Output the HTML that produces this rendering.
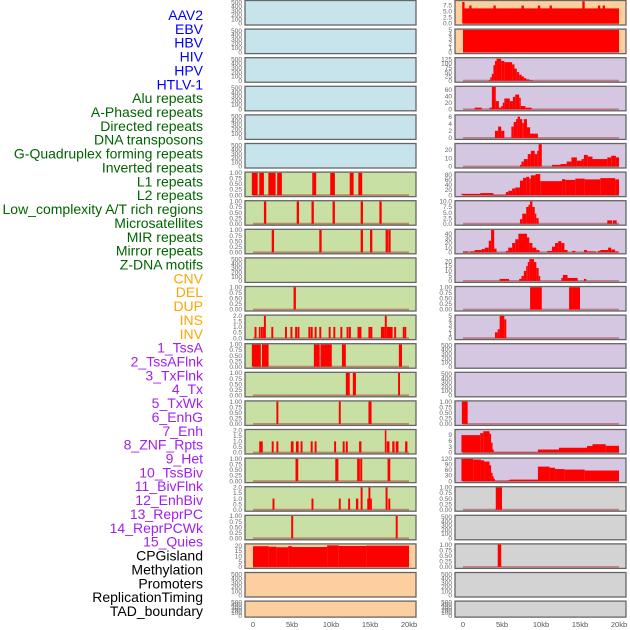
<!DOCTYPE html>
<html><head><meta charset="utf-8"><style>
body{margin:0;background:#fff;}
svg{display:block;font-family:"Liberation Sans",sans-serif;}
</style></head><body>
<svg id="chart" width="630" height="630" viewBox="0 0 630 630"></svg>
<script>
// ---------- data ----------
const trackLabels = ["AAV2","EBV","HBV","HIV","HPV","HTLV-1","Alu repeats","A-Phased repeats","Directed repeats","DNA transposons","G-Quadruplex forming repeats","Inverted repeats","L1 repeats","L2 repeats","Low_complexity A/T rich regions","Microsatellites","MIR repeats","Mirror repeats","Z-DNA motifs","CNV","DEL","DUP","INS","INV","1_TssA","2_TssAFlnk","3_TxFlnk","4_Tx","5_TxWk","6_EnhG","7_Enh","8_ZNF_Rpts","9_Het","10_TssBiv","11_BivFlnk","12_EnhBiv","13_ReprPC","14_ReprPCWk","15_Quies","CPGisland","Methylation","Promoters","ReplicationTiming","TAD_boundary"];
const labelGroups = ["virus","virus","virus","virus","virus","virus","repeat","repeat","repeat","repeat","repeat","repeat","repeat","repeat","repeat","repeat","repeat","repeat","repeat","sv","sv","sv","sv","sv","chrom","chrom","chrom","chrom","chrom","chrom","chrom","chrom","chrom","chrom","chrom","chrom","chrom","chrom","chrom","other","other","other","other","other"];
const xTickValues = [0,5,10,15,20];
const xTickLabels = ["0","5kb","10kb","15kb","20kb"];

// right column series: [startKb, endKb, value]
const r0Segs = [[0,20,6.3],[-0.1,0.2,9],[0.8,1.1,7.5],[3.9,4.2,7.5],[7.5,7.8,7.5],[9.6,9.9,7.5],[11.1,11.4,7.5],[15.3,15.6,9.3],[17.3,17.6,7.5],[17.9,18.2,7.5]];
const r1Segs = [[0,20,5]];
const r2Segs = [[3.3,3.5,5],[3.5,3.7,20],[3.7,3.9,40],[3.9,4.1,90],[4.1,4.3,115],[4.3,4.9,128],[4.9,5.3,115],[5.3,6.3,108],[6.3,6.6,95],[6.6,6.9,70],[6.9,7.2,50],[7.2,7.5,35],[7.5,7.8,25],[7.8,8.1,15],[8.1,8.5,8],[8.5,9,3]];
const r3Segs = [[1.5,2.4,5],[3.4,3.7,5],[3.7,4.2,68],[4.2,4.6,25],[4.6,4.9,5],[4.9,5.1,10],[5.1,5.3,20],[5.3,6,33],[6,6.4,25],[6.4,6.7,38],[6.7,7.2,45],[7.2,7.4,35],[7.4,8,10],[8,8.8,5]];
const r4Segs = [[4.1,4.5,2],[4.5,4.9,3.2],[4.9,5.3,2],[6.2,6.5,3.2],[6.5,6.8,4.5],[6.8,7.0,5.3],[7.0,7.3,6],[7.3,7.6,5.3],[7.6,7.8,4.2],[7.8,8.2,5.3],[8.2,8.6,3],[8.6,9.6,1.2]];
const r5Segs = [[7.3,7.5,2],[7.5,7.8,6],[7.8,8.3,9],[8.3,8.7,15],[8.7,9.2,19],[9.2,9.5,15],[9.5,9.7,19],[9.7,10.1,27],[11.4,12.5,2],[12.5,13.3,3],[13.3,13.9,6],[13.9,14.6,11],[14.6,15.2,7],[15.2,15.5,9],[15.5,16,14],[16,16.6,12],[16.6,18.5,9],[18.5,19,11],[19,19.6,13],[19.6,20,11]];
const r6Segs = [[-0.2,2.2,5],[2.2,3.9,8],[3.9,5.5,1],[5.5,5.8,12],[5.8,6.3,17],[6.3,6.7,26],[6.7,7.3,30],[7.3,7.7,57],[7.7,8.1,68],[8.1,8.5,72],[8.5,8.7,65],[8.7,9.3,78],[9.3,9.9,83],[9.9,12.7,55],[12.7,13.1,63],[13.1,14.4,60],[14.4,15.6,65],[15.6,17.6,62],[17.6,19.5,67],[19.5,20,62]];
const r7Segs = [[7.3,7.6,2],[7.6,8.1,4.5],[8.1,8.4,7.5],[8.4,8.6,8.5],[8.6,8.9,10],[8.9,9.2,7.5],[9.2,9.4,4.5],[9.4,9.7,2.5],[18.5,19.1,1.5],[19.2,19.7,1.5]];
const r8Segs = [[0,0.7,2],[0.9,1.5,2],[1.5,2.4,5],[2.4,2.8,7],[2.8,3.3,10],[3.3,3.6,25],[3.6,4,48],[4,4.3,8],[5.5,5.8,3],[5.8,6.3,10],[6.3,6.7,20],[6.7,7.1,28],[7.1,8.2,40],[8.2,8.5,32],[8.5,8.9,20],[8.9,9.4,10],[9.4,9.8,5],[10.8,11.4,3],[11.4,11.8,12],[11.8,12.2,20],[12.2,12.6,24],[12.6,13,20],[13,13.4,5],[14,14.4,3],[15.5,15.9,5],[15.9,17,2],[17.3,17.6,3],[17.6,18.6,5],[18.6,19,10],[19,19.5,6],[19.5,19.9,2]];
const r9Segs = [[4.7,5.9,2],[7.2,7.5,2],[7.5,7.8,5],[7.8,8.1,10],[8.1,8.3,15],[8.3,8.5,19],[8.5,9.1,22],[9.1,9.4,19],[9.4,9.7,13],[9.7,9.9,5],[12.6,12.8,3],[12.8,13.4,6],[13.4,14.7,3],[15.5,15.8,2]];
const r10Segs = [[8.6,10.1,1],[13.6,15,1]];
const r11Segs = [[4.1,4.45,1.3],[4.45,4.7,2],[4.7,5.3,5],[5.3,5.55,4.2]];
const r14Segs = [[-0.15,0.6,1]];
const r15Segs = [[-0.2,2.2,8.8],[2.2,2.6,9.8],[2.6,3.4,10.8],[3.4,3.6,9.5],[3.6,3.75,5],[3.75,3.9,1.5],[3.9,9.6,0.3],[9.6,12.3,1.5],[12.3,15.9,2.4],[15.9,16.6,3.3],[16.6,18.3,4.2],[18.3,20,3.4]];
const r16Segs = [[-0.2,1.3,120],[1.3,2.3,116],[2.3,2.7,112],[2.7,3.4,105],[3.4,3.6,85],[3.6,3.75,45],[3.75,3.9,25],[3.9,4.1,12],[4.1,5.8,2],[5.8,6,5],[6,9.6,8],[9.6,11.1,78],[11.1,11.8,72],[11.8,13,65],[13,15.6,62],[15.6,20,57]];
const r17Segs = [[4.2,5,1]];
const r19Segs = [[4.45,4.9,1]];
// left column series
const l6Segs = [[-0.15,0.6,1],[0.8,1.4,1],[1.97,2.9,1],[3.1,3.7,1],[7.6,8.1,1],[9.9,10.5,1],[12.4,12.9,1],[13.5,14,1]];
const l7Segs = [[1.4,1.7,1],[5.6,5.9,1],[7.5,7.8,1],[10.2,10.5,1],[13.8,14.1,1],[16.2,16.5,1]];
const l8Segs = [[2.4,2.7,1],[8.5,8.8,1],[13.8,14.1,1],[15,15.3,1],[17,17.3,1],[17.35,17.65,1]];
const l10Segs = [[5.2,5.5,1]];
const l11Segs = [[0.2,0.45,1],[0.75,0.95,1],[1.0,1.15,1],[1.2,1.4,1],[1.4,1.65,2],[2.35,2.6,1],[4.1,4.35,1],[4.8,5.05,1],[5.4,5.65,1],[5.7,5.95,1],[7.1,7.35,1],[7.4,7.65,1],[7.9,8.15,1],[8.5,8.75,1],[9.7,9.95,1],[10.3,10.55,1],[11.2,11.45,1],[12.0,12.25,1],[12.3,12.55,1],[13.4,13.65,1],[13.65,13.9,1],[14.8,15.05,1],[15.05,15.3,1],[16.4,16.9,1],[16.9,17.15,2],[17.15,17.9,1],[18.1,18.35,1],[19.2,19.45,1],[19.45,19.65,1]];
const l12Segs = [[-0.15,1.0,1],[1.15,2.0,1],[7.8,8.55,1],[8.65,10.1,1],[11.4,11.9,1],[18.7,19.1,1]];
const l13Segs = [[11.9,12.4,1],[12.8,13.2,1],[18.6,18.85,1]];
const l14Segs = [[3.0,3.25,1],[11.0,11.25,1],[14.8,15.2,1]];
const l15Segs = [[0.8,1.25,1],[2.4,2.65,1],[3.0,3.25,1],[4.85,5.2,1],[5.5,5.85,1],[6.1,6.35,1],[7.4,7.65,1],[7.9,8.15,1],[10.4,10.65,1],[11.5,11.75,1],[11.9,12.15,1],[13.6,13.9,1],[16.9,17.1,2],[17.15,17.5,1],[17.85,18.15,1],[18.3,18.65,1],[19.5,19.8,1]];
const l16Segs = [[5.45,5.8,1],[10.55,10.95,1],[13.35,13.7,1],[13.75,14.0,1],[17.25,17.6,1]];
const l17Segs = [[2.5,2.75,1],[7.5,7.75,1],[11.0,11.25,1],[12.2,12.45,1],[13.2,13.5,1],[13.8,14.05,2],[14.65,14.8,1],[14.8,15.05,2],[15.05,15.15,1],[17.0,17.25,2],[17.35,17.6,1]];
const l18Segs = [[4.9,5.15,1],[18.3,18.55,1]];
const l19Segs = [[0,2,19.5],[2,3,19],[3,4.5,18.5],[4.5,5,19.5],[5,9.5,18.7],[9.5,11,20.3],[11,14.5,19.7],[14.5,20,20]];

const emptyTicks = [0,100,200,300,400,500];
const binTicks = [0,0.25,0.5,0.75,1];
const twoTicks = [0,0.5,1,1.5,2];

// ---------- layout ----------
const BG = {blue:"#c7e3ec", green:"#c8e0a3", peach:"#fecf9e", purple:"#d5c6e2", grey:"#d3d3d3"};
const panels = [
 // left column
 {n:"l0",c:0,r:0,bg:"blue",segs:null},{n:"l1",c:0,r:1,bg:"blue",segs:null},{n:"l2",c:0,r:2,bg:"blue",segs:null},
 {n:"l3",c:0,r:3,bg:"blue",segs:null},{n:"l4",c:0,r:4,bg:"blue",segs:null},{n:"l5",c:0,r:5,bg:"blue",segs:null},
 {n:"l6",c:0,r:6,bg:"green",segs:l6Segs,ymax:1,ticks:binTicks,dec:2},
 {n:"l7",c:0,r:7,bg:"green",segs:l7Segs,ymax:1,ticks:binTicks,dec:2},
 {n:"l8",c:0,r:8,bg:"green",segs:l8Segs,ymax:1,ticks:binTicks,dec:2},
 {n:"l9",c:0,r:9,bg:"green",segs:null},
 {n:"l10",c:0,r:10,bg:"green",segs:l10Segs,ymax:1,ticks:binTicks,dec:2},
 {n:"l11",c:0,r:11,bg:"green",segs:l11Segs,ymax:2,ticks:twoTicks,dec:1},
 {n:"l12",c:0,r:12,bg:"green",segs:l12Segs,ymax:1,ticks:binTicks,dec:2},
 {n:"l13",c:0,r:13,bg:"green",segs:l13Segs,ymax:1,ticks:binTicks,dec:2},
 {n:"l14",c:0,r:14,bg:"green",segs:l14Segs,ymax:1,ticks:binTicks,dec:2},
 {n:"l15",c:0,r:15,bg:"green",segs:l15Segs,ymax:2,ticks:twoTicks,dec:1},
 {n:"l16",c:0,r:16,bg:"green",segs:l16Segs,ymax:1,ticks:binTicks,dec:2},
 {n:"l17",c:0,r:17,bg:"green",segs:l17Segs,ymax:2,ticks:twoTicks,dec:1},
 {n:"l18",c:0,r:18,bg:"green",segs:l18Segs,ymax:1,ticks:binTicks,dec:2},
 {n:"l19",c:0,r:19,bg:"peach",segs:l19Segs,ymax:21,ticks:[0,5,10,15,20],dec:0},
 {n:"l20",c:0,r:20,bg:"peach",segs:null},{n:"l21",c:0,r:21,bg:"peach",segs:null},
 // right column
 {n:"r0",c:1,r:0,bg:"peach",segs:r0Segs,ymax:9.3,ticks:[0,2.5,5,7.5],dec:1},
 {n:"r1",c:1,r:1,bg:"peach",segs:r1Segs,ymax:5,ticks:[0,1,2,3,4,5],dec:0},
 {n:"r2",c:1,r:2,bg:"purple",segs:r2Segs,ymax:130,ticks:[0,25,50,75,100,125],dec:0},
 {n:"r3",c:1,r:3,bg:"purple",segs:r3Segs,ymax:68,ticks:[0,20,40,60],dec:0},
 {n:"r4",c:1,r:4,bg:"purple",segs:r4Segs,ymax:6.3,ticks:[0,2,4,6],dec:0},
 {n:"r5",c:1,r:5,bg:"purple",segs:r5Segs,ymax:27,ticks:[0,10,20],dec:0},
 {n:"r6",c:1,r:6,bg:"purple",segs:r6Segs,ymax:88,ticks:[0,20,40,60,80],dec:0},
 {n:"r7",c:1,r:7,bg:"purple",segs:r7Segs,ymax:10,ticks:[0,2.5,5,7.5,10],dec:1},
 {n:"r8",c:1,r:8,bg:"purple",segs:r8Segs,ymax:48,ticks:[0,10,20,30,40],dec:0},
 {n:"r9",c:1,r:9,bg:"purple",segs:r9Segs,ymax:22.5,ticks:[0,5,10,15,20],dec:0},
 {n:"r10",c:1,r:10,bg:"purple",segs:r10Segs,ymax:1,ticks:binTicks,dec:2},
 {n:"r11",c:1,r:11,bg:"purple",segs:r11Segs,ymax:5,ticks:[0,1,2,3,4,5],dec:0},
 {n:"r12",c:1,r:12,bg:"purple",segs:null},{n:"r13",c:1,r:13,bg:"purple",segs:null},
 {n:"r14",c:1,r:14,bg:"purple",segs:r14Segs,ymax:1,ticks:binTicks,dec:2},
 {n:"r15",c:1,r:15,bg:"purple",segs:r15Segs,ymax:11.3,ticks:[0,3,6,9],dec:0},
 {n:"r16",c:1,r:16,bg:"purple",segs:r16Segs,ymax:120,ticks:[0,30,60,90,120],dec:0},
 {n:"r17",c:1,r:17,bg:"grey",segs:r17Segs,ymax:1,ticks:binTicks,dec:2},
 {n:"r18",c:1,r:18,bg:"grey",segs:null},
 {n:"r19",c:1,r:19,bg:"grey",segs:r19Segs,ymax:1,ticks:binTicks,dec:2},
 {n:"r20",c:1,r:20,bg:"grey",segs:null},{n:"r21",c:1,r:21,bg:"grey",segs:null}
];

const NS="http://www.w3.org/2000/svg";
const svg=document.getElementById("chart");
function mk(tag,attrs,parent){const e=document.createElementNS(NS,tag);for(const k in attrs)e.setAttribute(k,attrs[k]);(parent||svg).appendChild(e);return e;}

const COLS=[{x0:245,x1:416,zero:253},{x0:455,x1:626,zero:463}];
const KB=7.8;
function xScale(c,kb){return COLS[c].zero+kb*KB;}
function rowTop(r){return 0.5+r*28.6;}
function rowH(r){return r===21?16:24.5;}

// labels
const labelColor={virus:"#0000ff",repeat:"#006400",sv:"#ffa500",chrom:"#a020f0",other:"#000000"};
trackLabels.forEach((t,i)=>{
  const el=mk("text",{x:203,y:(20+i*13.86).toFixed(1),"text-anchor":"end","font-size":"14",fill:labelColor[labelGroups[i]]});
  
  
  el.textContent=t;
});

panels.forEach(p=>{
  const top=rowTop(p.r),h=rowH(p.r),bot=top+h;
  const X0=COLS[p.c].x0,W=COLS[p.c].x1-X0;
  const g=mk("g",{});
  
  
  const bg=mk("rect",{x:X0,y:top,width:W,height:h,fill:BG[p.bg]},g);
  
  
  const ymax=p.segs?p.ymax:520;
  const ticks=p.segs?p.ticks:emptyTicks;
  const dec=p.segs?p.dec:0;
  const yS=v=>bot-1.5-(v/ymax)*(h-2.2);
  ticks.forEach(t=>{
    const tl=mk("text",{x:X0-3,y:(yS(t)+2.2).toFixed(1),"text-anchor":"end","font-size":"6.5",fill:"#666"},g);
    
    
    tl.textContent=t.toFixed(dec);
  });
  if(p.segs){
    const base=mk("line",{x1:xScale(p.c,0),x2:xScale(p.c,20),y1:yS(0),y2:yS(0),stroke:"rgba(170,50,50,0.5)","stroke-width":"1.8"},g);
    
    
    p.segs.forEach(s=>{
      const xa=xScale(p.c,s[0]),xb=xScale(p.c,s[1]);
      const ya=yS(s[2]),yb=yS(0);
      const b=mk("rect",{x:xa.toFixed(2),y:ya.toFixed(2),width:Math.max(1.5,xb-xa).toFixed(2),height:Math.max(0.5,yb-ya).toFixed(2),fill:"#ff0000"},g);
      
      
    });
  }
  const br=mk("rect",{x:X0,y:top,width:W,height:h,fill:"none",stroke:"#666","stroke-width":"1.3"},g);
  
  
});

// x axes
[0,1].forEach(c=>{
  xTickValues.forEach((v,i)=>{
    const t=mk("text",{x:xScale(c,v),y:627,"text-anchor":"middle","font-size":"7.5",fill:"#555"});
    
    
    t.textContent=xTickLabels[i];
  });
});
</script>
</body></html>
